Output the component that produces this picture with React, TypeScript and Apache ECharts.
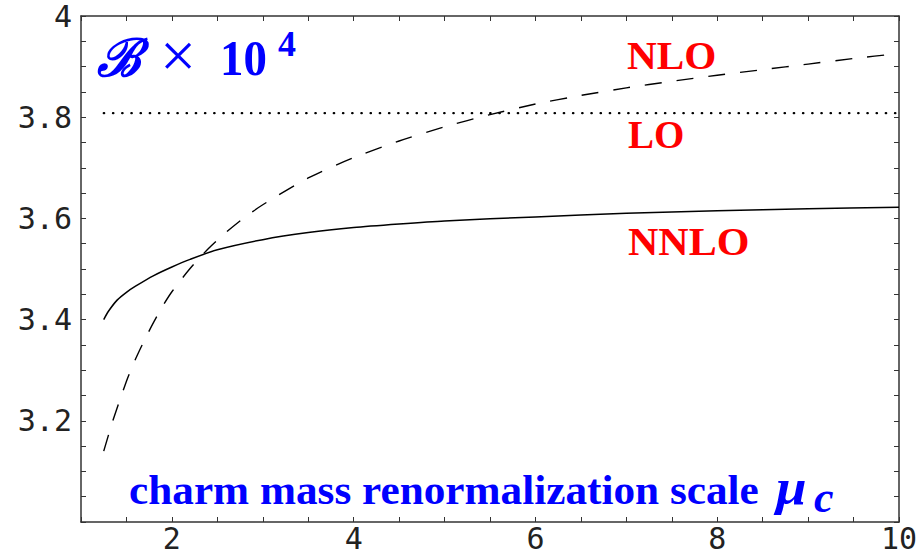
import React, { useEffect, useRef } from "react";
import * as echarts from "echarts";

// renormalization scale mu_c
const nnloX = [1.25, 1.3, 1.4, 1.5, 1.6, 1.8, 2.0, 2.2, 2.5, 3.0, 3.5, 4.0, 4.5, 5.0, 6.0, 7.0, 8.0, 9.0, 10.0];
const nnloY = [3.4, 3.416, 3.439, 3.454, 3.466, 3.487, 3.504, 3.519, 3.538, 3.558, 3.572, 3.582, 3.589, 3.595, 3.603, 3.61, 3.615, 3.619, 3.622];

const nloX = [1.25, 1.35, 1.5, 1.6, 1.7, 1.8, 1.9, 2.0, 2.2, 2.4, 2.6, 2.8, 3.0, 3.5, 4.0, 4.5, 5.0, 5.5, 6.0, 6.5, 7.0, 7.5, 8.0, 8.5, 9.0, 9.5, 10.0];
const nloY = [3.14, 3.2, 3.278, 3.322, 3.36, 3.395, 3.427, 3.455, 3.501, 3.54, 3.573, 3.602, 3.627, 3.68, 3.72, 3.753, 3.781, 3.805, 3.826, 3.843, 3.858, 3.871, 3.883, 3.894, 3.905, 3.916, 3.926];

const loX = [1.25, 10.0];
const loY = [3.808, 3.808];

const xMin = 1;
const xMax = 10;
const xStep = 0.5;
const yMin = 3;
const yMax = 4;
const yStep = 0.05;

const xLabelValues = [2, 4, 6, 8, 10];
const yLabelValues = [3.2, 3.4, 3.6, 3.8, 4];

const zip = (xs: number[], ys: number[]) => xs.map((x, i) => [x, ys[i]]);

export default function App() {
  const ref = useRef<HTMLDivElement>(null);
  useEffect(() => {
    if (!ref.current) return;
    const chart = echarts.init(ref.current, undefined, { renderer: "svg" });
    const axisColor = "#333";
    const tickFont = { fontFamily: "DejaVu Sans Mono", fontSize: 30, color: "#222" };
    const xFmt = (v: number) => {
      const r = Math.round(v * 2) / 2;
      return xLabelValues.includes(r) ? String(r) : "";
    };
    const yFmt = (v: number) => {
      const r = Math.round(v * 100) / 100;
      const hit = yLabelValues.find((t) => Math.abs(t - r) < 1e-6);
      if (hit === undefined) return "";
      return hit === 4 ? "4" : hit.toFixed(1);
    };
    const baseX = {
      type: "value" as const,
      min: xMin,
      max: xMax,
      interval: xStep,
      splitLine: { show: false },
      axisLine: { show: true, onZero: false, lineStyle: { color: axisColor, width: 1.5 } },
      axisTick: { show: true, inside: true, length: 5, lineStyle: { color: axisColor, width: 1 } },
    };
    const baseY = {
      type: "value" as const,
      min: yMin,
      max: yMax,
      interval: yStep,
      splitLine: { show: false },
      axisLine: { show: true, onZero: false, lineStyle: { color: axisColor, width: 1.5 } },
      axisTick: { show: true, inside: true, length: 5, lineStyle: { color: axisColor, width: 1 } },
    };
    const blue = "#0000ff";
    const red = "#ff0000";
    const serif = '"Liberation Serif", "Times New Roman", serif';
    const txt = (text: string, x: number, y: number, size: number, fill: string, opts: any = {}) => ({
      type: "text",
      x,
      y,
      scaleX: opts.scaleX ?? 1,
      scaleY: opts.scaleY ?? 1,
      z: 100,
      style: {
        text,
        fill,
        fontFamily: opts.family ?? serif,
        fontSize: size,
        fontWeight: opts.weight ?? "bold",
        fontStyle: opts.italic ? "italic" : "normal",
        align: "left",
        verticalAlign: "middle",
        textAlign: "left",
        textVerticalAlign: "middle",
      },
    });
    chart.setOption({
      animation: false,
      grid: { left: 81, right: 19, top: 16, bottom: 34, outerBoundsMode: "none", containLabel: false },
      xAxis: [
        { ...baseX, position: "bottom", axisLabel: { ...tickFont, margin: 4, lineHeight: 24, formatter: xFmt } },
        { ...baseX, position: "top", axisLabel: { show: false } },
      ],
      yAxis: [
        { ...baseY, position: "left", axisLabel: { ...tickFont, margin: 9, formatter: yFmt } },
        { ...baseY, position: "right", axisLabel: { show: false } },
      ],
      series: [
        {
          name: "NNLO",
          type: "line",
          data: zip(nnloX, nnloY),
          symbol: "none",
          smooth: 0.25,
          lineStyle: { color: "#000", width: 1.5, type: "solid" },
        },
        {
          name: "NLO",
          type: "line",
          data: zip(nloX, nloY),
          symbol: "none",
          smooth: 0.25,
          lineStyle: { color: "#000", width: 1.4, type: [17, 15] },
        },
        {
          name: "LO",
          type: "line",
          data: zip(loX, loY),
          symbol: "none",
          lineStyle: { color: "#000", width: 2.2, type: [0.5, 8.7], cap: "round" },
        },
      ],
      graphic: [
        txt("ℬ", 97, 57, 52, blue, { italic: true, family: '"DejaVu Serif", serif' }),
        txt("×", 160, 55, 64, blue, { weight: "normal" }),
        txt("10", 220, 58, 51, blue, { scaleX: 0.92 }),
        txt("4", 278, 44, 36, blue),
        txt("NLO", 627, 56, 40, red, { scaleX: 1.03 }),
        txt("LO", 628, 134, 39, red),
        txt("NNLO", 628, 241, 40, red, { scaleX: 1.05 }),
        txt("charm mass renormalization scale", 129, 490, 42, blue, { scaleX: 1.03 }),
        txt("μ", 776, 487, 50, blue, { italic: true, scaleX: 1.1 }),
        txt("c", 814, 497, 44, blue, { italic: true }),
      ],
    });
    return () => chart.dispose();
  }, []);
  return (
    <div
      ref={ref}
      style={{ position: "fixed", left: 0, top: 0, width: 918, height: 556, background: "#fff" }}
    />
  );
}
